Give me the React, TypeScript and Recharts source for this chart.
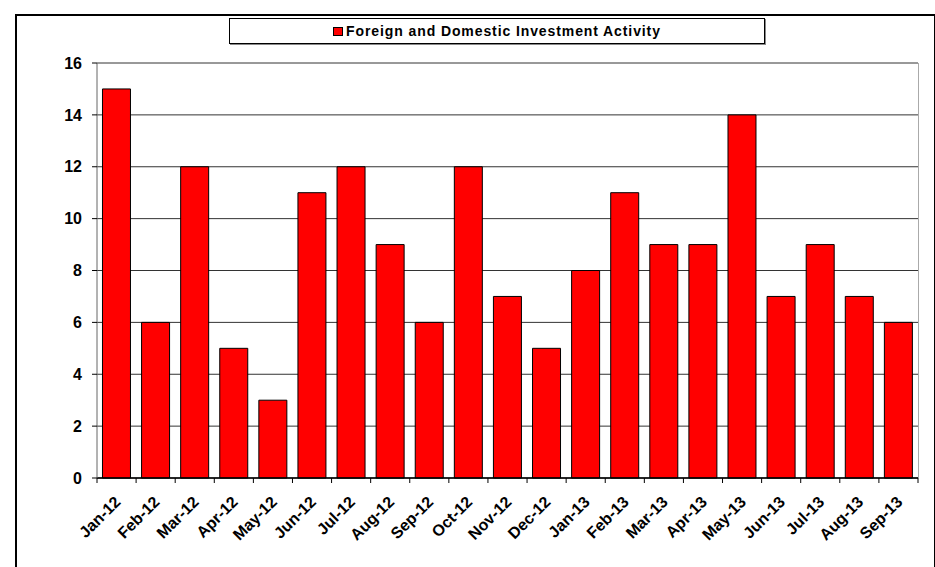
import { BarChart, Bar, XAxis, YAxis, CartesianGrid } from 'recharts'

const months = [
  'Jan-12', 'Feb-12', 'Mar-12', 'Apr-12', 'May-12', 'Jun-12', 'Jul-12', 'Aug-12', 'Sep-12', 'Oct-12', 'Nov-12',
  'Dec-12', 'Jan-13', 'Feb-13', 'Mar-13', 'Apr-13', 'May-13', 'Jun-13', 'Jul-13', 'Aug-13', 'Sep-13',
]
const activity = [15, 6, 12, 5, 3, 11, 12, 9, 6, 12, 7, 5, 8, 11, 9, 9, 14, 7, 9, 7, 6]
const yTicks = [0, 2, 4, 6, 8, 10, 12, 14, 16]
const seriesName = 'Foreign and Domestic Investment Activity'

const font = 'Arial, "Liberation Sans", sans-serif'

const W = 935
const H = 567
const plotLeft = 97
const plotRight = 918
const band = (plotRight - plotLeft) / months.length

// Excel-style: tick marks sit between categories, labels rotated 45deg
function MonthTick(props: any) {
  const { x, y, payload, index } = props
  const ax = x + 5
  const ay = y + 17
  return (
    <g>
      <line x1={x - band / 2} x2={x - band / 2} y1={y - 8} y2={y - 3} stroke="#000" />
      {index === months.length - 1 && (
        <line x1={x + band / 2} x2={x + band / 2} y1={y - 8} y2={y - 3} stroke="#000" />
      )}
      <text
        x={ax}
        y={ay}
        textAnchor="end"
        transform={`rotate(-45, ${ax}, ${ay})`}
        fontFamily={font}
        fontWeight="bold"
        fontSize={16}
        fill="#000"
      >
        {payload.value}
      </text>
    </g>
  )
}

export default function App() {
  const data = months.map((m, i) => ({ month: m, value: activity[i] }))

  return (
    <div style={{ position: 'absolute', left: 0, top: 0, width: W, height: H, overflow: 'hidden', background: '#fff' }}>
      <div
        style={{
          position: 'absolute',
          left: 15,
          top: 14,
          width: 917,
          height: 600,
          border: '2px solid #000',
        }}
      />
      <div
        style={{
          position: 'absolute',
          left: 229,
          top: 18,
          width: 534,
          height: 24,
          border: '1px solid #000',
          boxShadow: '1px 1px 0 #888',
          display: 'flex',
          alignItems: 'center',
          justifyContent: 'center',
          fontFamily: font,
          fontWeight: 'bold',
          fontSize: 14,
          letterSpacing: 0.9,
          background: '#fff',
        }}
      >
        <span
          style={{
            display: 'inline-block',
            width: 8,
            height: 7,
            background: '#ff0000',
            border: '1px solid #000',
            marginRight: 3,
          }}
        />
        {seriesName}
      </div>
      <div style={{ position: 'absolute', left: 0, top: 0 }}>
        <BarChart
          width={W}
          height={H}
          data={data}
          margin={{ top: 63, right: W - plotRight, bottom: 0, left: 0 }}
          barCategoryGap="14%"
        >
          <CartesianGrid vertical={false} stroke="#333" strokeOpacity={1} />
          <XAxis
            dataKey="month"
            height={89}
            interval={0}
            tickLine={false}
            axisLine={{ stroke: '#000', strokeWidth: 1.5 }}
            tick={<MonthTick />}
          />
          <YAxis
            width={plotLeft}
            domain={[0, 16]}
            ticks={yTicks}
            interval={0}
            tickSize={5}
            tickMargin={10}
            axisLine={{ stroke: '#666' }}
            tickLine={{ stroke: '#000' }}
            tick={{ fontFamily: font, fontWeight: 'bold', fontSize: 16, fill: '#000' }}
          />
          <Bar
            dataKey="value"
            name={seriesName}
            fill="#ff0000"
            stroke="#000"
            strokeWidth={1}
            isAnimationActive={false}
          />
        </BarChart>
      </div>
      <div style={{ position: 'absolute', left: plotRight, top: 63, width: 1, height: 415, background: '#aaa' }} />
    </div>
  )
}
